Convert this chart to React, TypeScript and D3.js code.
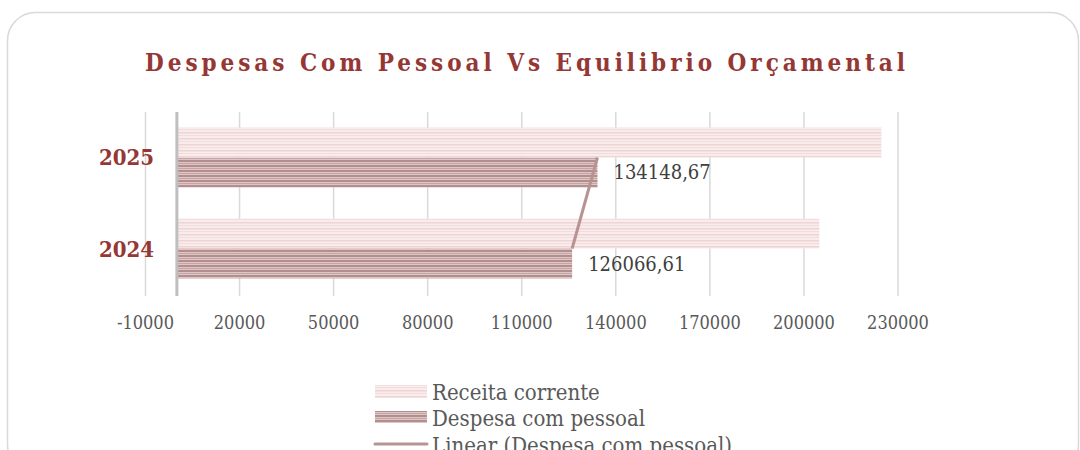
import React from "react";
import * as d3 from "d3";

const categories = ["2025", "2024"];
const receitaCorrente = [224700, 204900];
const despesaPessoal = [134148.67, 126066.61];
const despesaLabels = ["134148,67", "126066,61"];
const tickValues = [-10000, 20000, 50000, 80000, 110000, 140000, 170000, 200000, 230000];
const seriesNames = ["Receita corrente", "Despesa com pessoal", "Linear (Despesa com pessoal)"];

const W = 1080;
const H = 450;
const FONT = "'DejaVu Serif Condensed', 'DejaVu Serif', serif";

export default function App() {
  const x = d3.scaleLinear().domain([-10000, 230000]).range([145.5, 898]);
  const y = d3.scaleBand<string>().domain(categories).range([112, 294]).paddingInner(0.3407).paddingOuter(0.1703);
  const sub = d3.scaleBand<string>().domain(["r", "d"]).range([0, y.bandwidth()]);
  const gridTop = 112;
  const gridBottom = 296;

  const trend = d3
    .line<number>()
    .x((v) => x(v))
    .y((_, i) => (y(categories[i]) as number) + y.bandwidth() / 2);

  return (
    <svg width={W} height={H} style={{ position: "absolute", left: 0, top: 0, background: "#fff" }}>
      <defs>
        <pattern id="pR" width="8" height="6" patternUnits="userSpaceOnUse">
          <rect width="8" height="6" fill="#f9eced" />
          <rect y="0" width="8" height="1.5" fill="#efd4d4" />
          <rect y="3" width="8" height="1" fill="#f3dcdc" />
        </pattern>
        <pattern id="pD" width="8" height="5" patternUnits="userSpaceOnUse">
          <rect width="8" height="5" fill="#dcc6c6" />
          <rect y="0" width="8" height="2" fill="#b48d8d" />
          <rect y="3" width="8" height="1" fill="#c5a5a5" />
        </pattern>
      </defs>
      <rect x={7.5} y={12.5} width={1071} height={460} rx={28} fill="#fff" stroke="#d9d9d9" strokeWidth={1.5} />

      <text
        x={145}
        y={71}
        textLength={760}
        lengthAdjust="spacing"
        fontFamily={FONT}
        fontWeight="bold"
        fontSize={24}
        fill="#953735"
      >
        Despesas Com Pessoal Vs Equilibrio Orçamental
      </text>

      {tickValues.map((t) => (
        <line key={"g" + t} x1={x(t)} x2={x(t)} y1={gridTop} y2={gridBottom} stroke="#d9d9d9" strokeWidth={1.5} />
      ))}

      {categories.map((c, i) => {
        const y0 = y(c) as number;
        return (
          <g key={c}>
            <rect x={x(0)} y={y0 + (sub("r") as number)} width={x(receitaCorrente[i]) - x(0)} height={sub.bandwidth()} fill="url(#pR)" />
            <rect x={x(0)} y={y0 + (sub("d") as number)} width={x(despesaPessoal[i]) - x(0)} height={sub.bandwidth()} fill="url(#pD)" />
          </g>
        );
      })}

      <line x1={x(0)} x2={x(0)} y1={gridTop} y2={gridBottom} stroke="#bfbfbf" strokeWidth={3} />

      <path d={trend(despesaPessoal) || ""} fill="none" stroke="#b89393" strokeWidth={3} />

      {categories.map((c, i) => {
        const y0 = y(c) as number;
        return (
          <text
            key={"l" + c}
            x={x(despesaPessoal[i]) + 16}
            y={y0 + (sub("d") as number) + sub.bandwidth() / 2 + 7}
            fontFamily={FONT}
            fontSize={20}
            fill="#404040"
          >
            {despesaLabels[i]}
          </text>
        );
      })}

      {categories.map((c) => (
        <text
          key={"c" + c}
          x={154}
          y={(y(c) as number) + y.bandwidth() / 2 + 8}
          textAnchor="end"
          fontFamily={FONT}
          fontWeight="bold"
          fontSize={22}
          fill="#953735"
        >
          {c}
        </text>
      ))}

      {tickValues.map((t) => (
        <text key={"t" + t} x={x(t)} y={329} textAnchor="middle" fontFamily={FONT} fontSize={18} fill="#595959">
          {String(t)}
        </text>
      ))}

      <g>
        <rect x={375} y={385} width={52} height={13} fill="url(#pR)" />
        <text x={432} y={400} fontFamily={FONT} fontSize={22} fill="#595959">{seriesNames[0]}</text>
        <rect x={375} y={411} width={52} height={12} fill="url(#pD)" />
        <text x={432} y={426} fontFamily={FONT} fontSize={22} fill="#595959">{seriesNames[1]}</text>
        <line x1={375} x2={427} y1={444} y2={444} stroke="#b89393" strokeWidth={3} strokeLinecap="round" />
        <text x={432} y={453} fontFamily={FONT} fontSize={22} fill="#595959">{seriesNames[2]}</text>
      </g>
    </svg>
  );
}
